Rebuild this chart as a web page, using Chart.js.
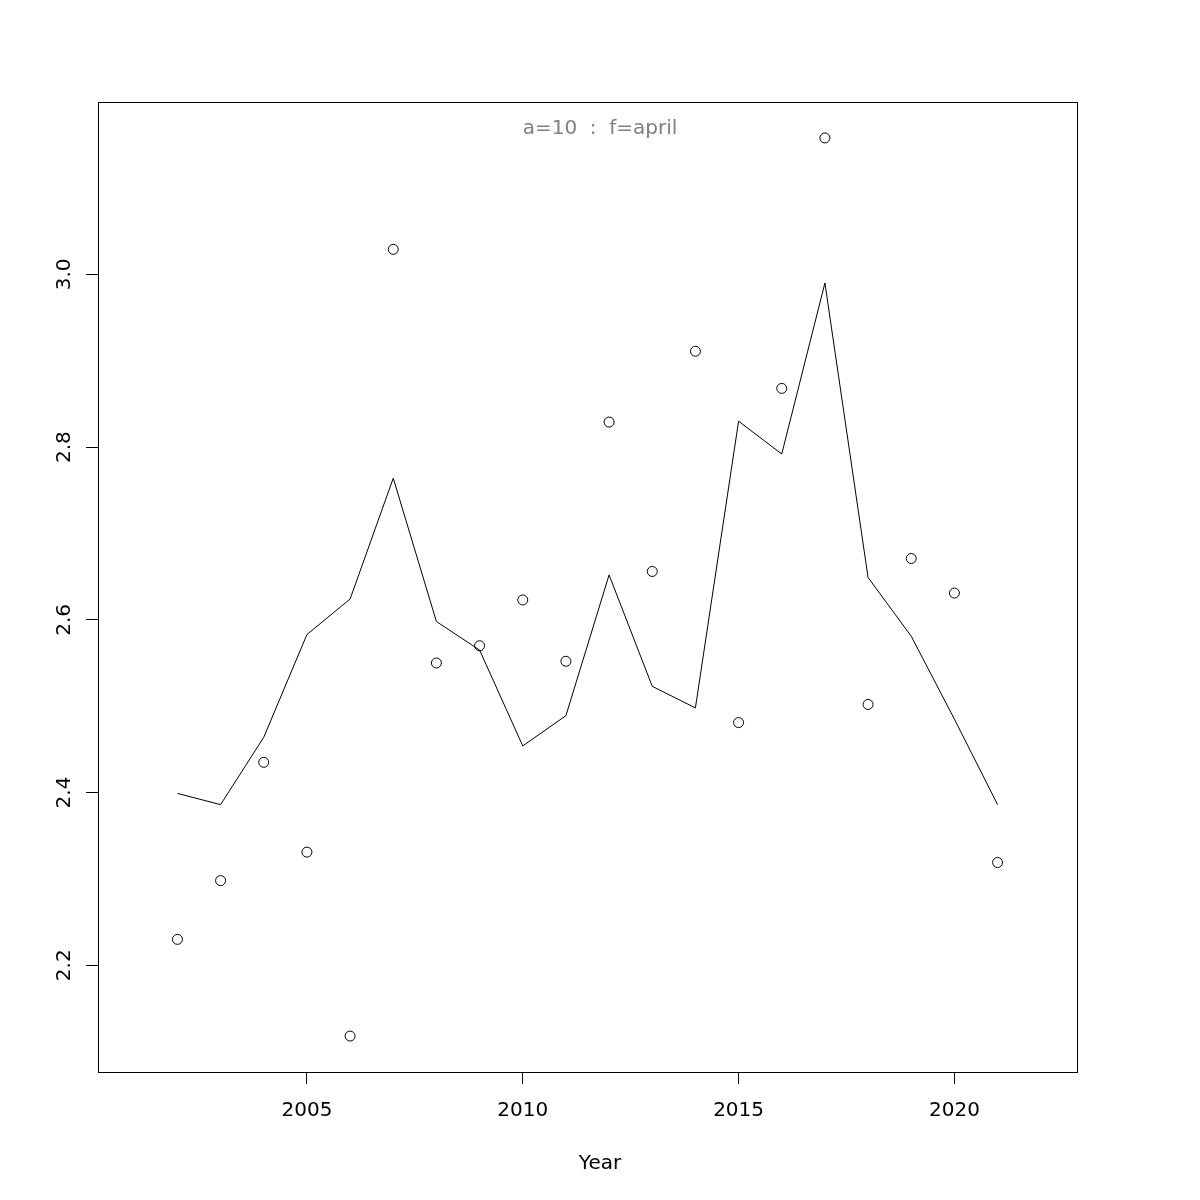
<!DOCTYPE html>
<html>
<head>
<meta charset="utf-8">
<script src="https://cdn.jsdelivr.net/npm/chart.js@4"></script>
<style>
  html, body { margin: 0; padding: 0; background: #fff; }
  canvas { display: block; }
</style>
</head>
<body>
<canvas id="chart" width="1200" height="1200"></canvas>
<script>
var years = [2002, 2003, 2004, 2005, 2006, 2007, 2008, 2009, 2010, 2011,
             2012, 2013, 2014, 2015, 2016, 2017, 2018, 2019, 2020, 2021];
var observed = [2.230, 2.298, 2.435, 2.331, 2.118, 3.029, 2.550, 2.570, 2.623, 2.552,
                2.829, 2.656, 2.911, 2.481, 2.868, 3.158, 2.502, 2.671, 2.631, 2.319];
var fitted = [2.399, 2.386, 2.464, 2.583, 2.624, 2.764, 2.598, 2.565, 2.454, 2.489,
              2.652, 2.523, 2.498, 2.830, 2.792, 2.990, 2.649, 2.581, 2.485, 2.386];
var xTicks = [2005, 2010, 2015, 2020];
var yTicks = [2.2, 2.4, 2.6, 2.8, 3.0];
var xLimits = [2001, 2022];
var titleText = "a=10  :  f=april";
var xLabel = "Year";

var FONT = "DejaVu Sans";

// R style axis range: limits widened by 4% on each side
function rRange(lo, hi) {
  var d = (hi - lo) * 0.04;
  return [lo - d, hi + d];
}
var xr = rRange(xLimits[0], xLimits[1]);
var yr = rRange(Math.min.apply(null, observed), Math.max.apply(null, observed));

var pointData = years.map(function (y, i) { return { x: y, y: observed[i] }; });
var lineData = years.map(function (y, i) { return { x: y, y: fitted[i] }; });

var boxAndText = {
  id: 'boxAndText',
  afterDraw: function (chart) {
    var ctx = chart.ctx;
    var a = chart.chartArea;
    ctx.save();
    ctx.strokeStyle = '#000';
    ctx.lineWidth = 1;
    ctx.strokeRect(Math.round(a.left) + 0.5, Math.round(a.top) + 0.5,
                   Math.round(a.right - a.left), Math.round(a.bottom - a.top));

    ctx.font = '20px "' + FONT + '"';
    ctx.textAlign = 'center';
    ctx.textBaseline = 'middle';

    ctx.fillStyle = '#808080';
    ctx.fillText(titleText, chart.width / 2, 129);

    ctx.fillStyle = '#000';
    ctx.fillText(xLabel, chart.width / 2, 1164);

    // y tick labels, rotated like R's las=0
    var ys = chart.scales.y;
    yTicks.forEach(function (v) {
      var py = ys.getPixelForValue(v);
      ctx.save();
      ctx.translate(65, py);
      ctx.rotate(-Math.PI / 2);
      ctx.fillText(v.toFixed(1), 0, 0);
      ctx.restore();
    });
    ctx.restore();
  }
};

new Chart(document.getElementById('chart'), {
  type: 'scatter',
  data: {
    datasets: [
      {
        label: 'observed',
        data: pointData,
        showLine: false,
        pointStyle: 'circle',
        pointRadius: 5,
        borderColor: '#000',
        backgroundColor: 'rgba(0,0,0,0)',
        borderWidth: 1
      },
      {
        label: 'fitted',
        data: lineData,
        showLine: true,
        pointRadius: 0,
        borderColor: '#000',
        borderWidth: 1,
        tension: 0,
        fill: false
      }
    ]
  },
  options: {
    responsive: false,
    animation: false,
    devicePixelRatio: 1,
    layout: { padding: { top: 102, right: 123, left: 0, bottom: 0 } },
    plugins: {
      legend: { display: false },
      tooltip: { enabled: false },
      title: { display: false }
    },
    scales: {
      x: {
        type: 'linear',
        min: xr[0],
        max: xr[1],
        afterBuildTicks: function (s) { s.ticks = xTicks.map(function (v) { return { value: v }; }); },
        afterFit: function (s) { s.height = 128; },
        grid: { drawOnChartArea: false, drawTicks: true, tickLength: 12, color: '#000', lineWidth: 1 },
        border: { display: true, color: '#000', width: 1 },
        ticks: {
          color: '#000',
          font: { family: FONT, size: 20 },
          padding: 15,
          maxRotation: 0,
          callback: function (v) { return String(v); }
        }
      },
      y: {
        type: 'linear',
        min: yr[0],
        max: yr[1],
        afterBuildTicks: function (s) { s.ticks = yTicks.map(function (v) { return { value: v }; }); },
        afterFit: function (s) { s.width = 98; },
        grid: { drawOnChartArea: false, drawTicks: true, tickLength: 12, color: '#000', lineWidth: 1 },
        border: { display: true, color: '#000', width: 1 },
        ticks: { display: false }
      }
    }
  },
  plugins: [boxAndText]
});
</script>
</body>
</html>
